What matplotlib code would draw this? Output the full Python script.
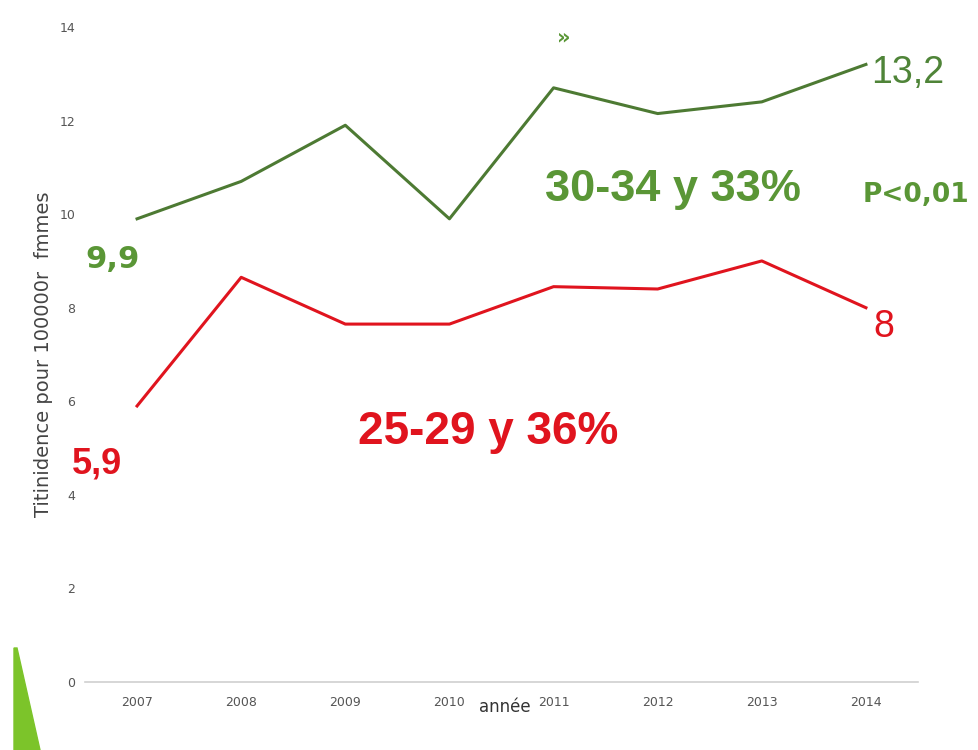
import matplotlib
matplotlib.use("Agg")
import matplotlib.pyplot as plt
from matplotlib.patches import Polygon

# données
annees = [2007, 2008, 2009, 2010, 2011, 2012, 2013, 2014]
taux_30_34 = [9.9, 10.7, 11.9, 9.9, 12.7, 12.15, 12.4, 13.2]
taux_25_29 = [5.9, 8.65, 7.65, 7.65, 8.45, 8.4, 9.0, 8.0]
yticks = [0, 2, 4, 6, 8, 10, 12, 14]

vert_ligne = '#4d7a33'
vert_texte = '#5a9636'
vert_fonce = '#4f8438'
rouge = '#e0141e'
lib = 'Liberation Sans'

fig = plt.figure(figsize=(9.79, 7.5), dpi=100)
ax = fig.add_axes([85/979, 1-682/750, (918-85)/979, (682-27)/750])

ax.plot(annees, taux_30_34, color=vert_ligne, linewidth=2.2)
ax.plot(annees, taux_25_29, color=rouge, linewidth=2.2)

ax.set_xlim(2006.5, 2014.5)
ax.set_ylim(0, 14)
ax.set_yticks(yticks)
ax.set_xticks(annees)
ax.tick_params(axis='both', length=0, labelsize=9, colors='#555555')
ax.tick_params(axis='x', pad=10)
ax.tick_params(axis='y', pad=7)
for s in ['top', 'right', 'left']:
    ax.spines[s].set_visible(False)
ax.spines['bottom'].set_color('#d0d0d0')
ax.spines['bottom'].set_linewidth(1.2)

ax.set_ylabel('Titinidence pour 100000r  fmmes', fontsize=14, color='#444444',
              family='Liberation Sans Narrow')
ax.yaxis.set_label_coords(-0.038, 0.5)

# étiquettes de valeurs (décalages en points)
ax.annotate('9,9', (annees[0], taux_30_34[0]), xytext=(-37, -29), textcoords='offset points',
            color=vert_texte, fontsize=22, fontweight='bold', ha='left', va='center')
ax.annotate('5,9', (annees[0], taux_25_29[0]), xytext=(-47, -42), textcoords='offset points',
            color=rouge, fontsize=26, fontweight='bold', family=lib, ha='left', va='center')
ax.annotate('13,2', (annees[-1], taux_30_34[-1]), xytext=(4, -6), textcoords='offset points',
            color=vert_fonce, fontsize=27, family=lib, ha='left', va='center')
ax.annotate('8', (annees[-1], taux_25_29[-1]), xytext=(5, -14), textcoords='offset points',
            color=rouge, fontsize=27, family=lib, ha='left', va='center')

ax.text(545/979, 1-201/750, '30-34 y 33%', transform=fig.transFigure, color=vert_texte,
        fontsize=32.5, fontweight='bold', family=lib, va='baseline', ha='left')
ax.text(863/979, 1-202/750, 'P<0,01', transform=fig.transFigure, color=vert_texte,
        fontsize=19, fontweight='bold', va='baseline', ha='left')
ax.text(358/979, 1-444/750, '25-29 y 36%', transform=fig.transFigure, color=rouge,
        fontsize=33, fontweight='bold', family=lib, va='baseline', ha='left')
ax.text(557/979, 1-37/750, '»', transform=fig.transFigure, color=vert_texte,
        fontsize=15, fontweight='bold', va='center', ha='left')
ax.text(505/979, 1-707/750, 'année', transform=fig.transFigure, color='#333333',
        fontsize=12, va='center', ha='center')

# triangle décoratif en bas à gauche
fig.patches.append(Polygon([(14/979, 102/750), (17/979, 102/750), (40/979, 0), (14/979, 0)],
                           closed=True, transform=fig.transFigure, color='#7cc42a'))

fig.savefig('out.png', dpi=100)
